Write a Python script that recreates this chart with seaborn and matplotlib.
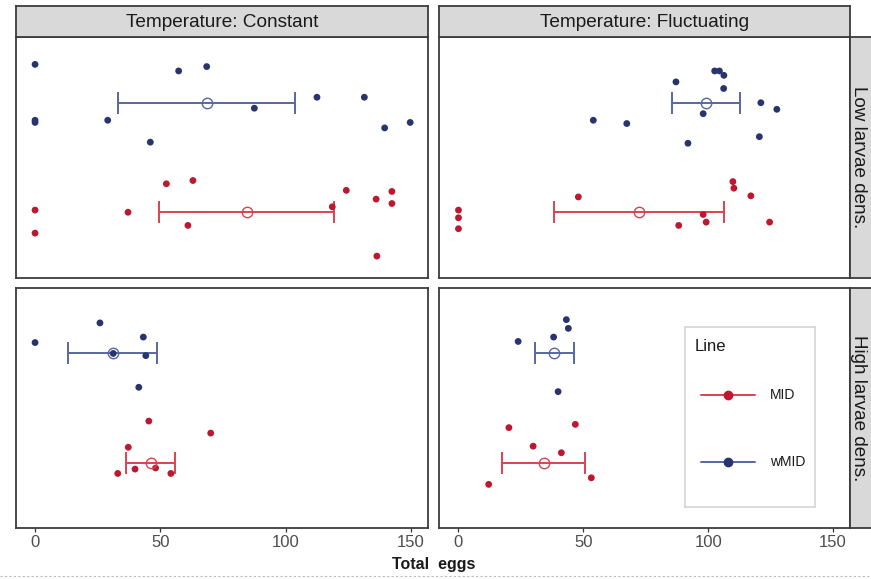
import matplotlib
matplotlib.use("Agg")
import numpy as np
import pandas as pd
import matplotlib.pyplot as plt
import seaborn as sns
from matplotlib.lines import Line2D

# ---------------- data ----------------
temperatures = ["Constant", "Fluctuating"]
densities = ["Low larvae dens.", "High larvae dens."]
line_order = ["wMID", "MID"]          # wMID drawn on top row, MID below
legend_order = ["MID", "wMID"]

# Constant / Low
cl_wmid_eggs = [0, 57.3, 68.5, 112.5, 131.4, 87.5, 0, 0, 29.0, 139.5, 149.7, 46.0]
cl_wmid_jit = [-0.35, -0.29, -0.33, -0.05, -0.05, 0.05, 0.16, 0.18, 0.16, 0.23, 0.18, 0.36]
cl_mid_eggs = [0, 0, 37.1, 52.4, 63.0, 61.0, 118.6, 124.2, 136.1, 142.4, 142.4, 136.4]
cl_mid_jit = [-0.02, 0.19, 0.0, -0.26, -0.29, 0.12, -0.05, -0.20, -0.12, -0.19, -0.08, 0.40]
# Fluctuating / Low
fl_wmid_eggs = [87.1, 102.6, 104.5, 106.3, 106.2, 121.1, 127.5, 98.0, 54.0, 67.4, 120.5, 91.9]
fl_wmid_jit = [-0.19, -0.29, -0.29, -0.25, -0.13, 0.00, 0.06, 0.10, 0.16, 0.19, 0.31, 0.37]
fl_mid_eggs = [0, 0, 0, 48.0, 88.2, 98.0, 99.2, 109.9, 110.3, 117.1, 124.6]
fl_mid_jit = [-0.02, 0.05, 0.15, -0.14, 0.12, 0.02, 0.09, -0.28, -0.22, -0.15, 0.09]
# Constant / High
ch_wmid_eggs = [0, 25.9, 43.2, 44.2, 31.2, 41.4]
ch_wmid_jit = [-0.10, -0.28, -0.15, 0.02, 0.0, 0.31]
ch_mid_eggs = [45.4, 70.1, 37.2, 33.0, 39.9, 48.1, 54.2]
ch_mid_jit = [-0.38, -0.27, -0.14, 0.10, 0.06, 0.05, 0.10]
# Fluctuating / High
fh_wmid_eggs = [43.2, 44.0, 38.1, 23.9, 39.9]
fh_wmid_jit = [-0.31, -0.23, -0.15, -0.11, 0.35]
fh_mid_eggs = [20.2, 46.8, 29.9, 41.2, 53.2, 12.1]
fh_mid_jit = [-0.32, -0.35, -0.15, -0.09, 0.14, 0.20]

# summary: mean and confidence interval per group
summ_temp = ["Constant", "Constant", "Fluctuating", "Fluctuating",
             "Constant", "Constant", "Fluctuating", "Fluctuating"]
summ_dens = ["Low larvae dens."] * 4 + ["High larvae dens."] * 4
summ_line = ["wMID", "MID", "wMID", "MID", "wMID", "MID", "wMID", "MID"]
summ_mean = [68.5, 84.4, 99.0, 72.3, 31.2, 46.2, 38.3, 34.2]
summ_lo = [33.1, 49.5, 85.4, 38.3, 13.3, 36.3, 30.7, 17.3]
summ_hi = [103.7, 119.4, 112.9, 106.3, 48.5, 56.0, 46.1, 50.8]

x_ticks = [0, 50, 100, 150]

# ---------------- build tables ----------------
groups = [
    ("Constant", "Low larvae dens.", "wMID", cl_wmid_eggs, cl_wmid_jit),
    ("Constant", "Low larvae dens.", "MID", cl_mid_eggs, cl_mid_jit),
    ("Fluctuating", "Low larvae dens.", "wMID", fl_wmid_eggs, fl_wmid_jit),
    ("Fluctuating", "Low larvae dens.", "MID", fl_mid_eggs, fl_mid_jit),
    ("Constant", "High larvae dens.", "wMID", ch_wmid_eggs, ch_wmid_jit),
    ("Constant", "High larvae dens.", "MID", ch_mid_eggs, ch_mid_jit),
    ("Fluctuating", "High larvae dens.", "wMID", fh_wmid_eggs, fh_wmid_jit),
    ("Fluctuating", "High larvae dens.", "MID", fh_mid_eggs, fh_mid_jit),
]
rows = []
for t, d, ln, eggs, jit in groups:
    for e, j in zip(eggs, jit):
        rows.append(dict(temp=t, dens=d, line=ln, eggs=e,
                         ypos=line_order.index(ln) + j))
df = pd.DataFrame(rows)
summ = pd.DataFrame(dict(temp=summ_temp, dens=summ_dens, line=summ_line,
                         mean=summ_mean, lo=summ_lo, hi=summ_hi))
summ["ypos"] = [line_order.index(l) for l in summ["line"]]

point_pal = {"MID": "#BE1730", "wMID": "#27346E"}
bar_pal = {"MID": "#D8434F", "wMID": "#5867A2"}

# ---------------- figure ----------------
sns.set_theme(style="white")
plt.rcParams["font.family"] = ["Liberation Sans", "DejaVu Sans"]

W, H = 871, 579
fig = plt.figure(figsize=(W / 100, H / 100), dpi=100)
fig.patch.set_facecolor("white")


def rect(l, t, r, b):
    return [l / W, 1 - b / H, (r - l) / W, (b - t) / H]


col_x = [(15.5, 428), (439, 850)]
row_y = [(37, 278), (288, 528)]
frame_col = "#3C3C3C"

for ri, dens in enumerate(densities):
    for ci, temp in enumerate(temperatures):
        l, r = col_x[ci]
        t, b = row_y[ri]
        ax = fig.add_axes(rect(l, t, r, b))
        sub = df[(df.temp == temp) & (df.dens == dens)]
        sns.scatterplot(data=sub, x="eggs", y="ypos", hue="line",
                        palette=point_pal, s=24, linewidth=0, ax=ax,
                        legend=False, zorder=3)
        ss = summ[(summ.temp == temp) & (summ.dens == dens)]
        for _, rw in ss.iterrows():
            c = bar_pal[rw["line"]]
            ax.errorbar(rw["mean"], rw["ypos"],
                        xerr=[[rw["mean"] - rw["lo"]], [rw["hi"] - rw["mean"]]],
                        fmt="none", ecolor=c, elinewidth=1.4, capsize=7.8,
                        capthick=1.4, zorder=2)
            ax.plot(rw["mean"], rw["ypos"], marker="o", markersize=7.5,
                    markerfacecolor="none", markeredgecolor=c,
                    markeredgewidth=1.0, zorder=4)
        ax.set_xlim(-7.8, 156.8)
        ax.set_ylim(1.6, -0.6)
        ax.set_xlabel("")
        ax.set_ylabel("")
        ax.set_yticks([])
        ax.set_xticks(x_ticks)
        if ri == 1:
            ax.tick_params(axis="x", length=3, width=0.9, color="#333333",
                           labelsize=12, labelcolor="#4D4D4D", pad=2,
                           bottom=True)
        else:
            ax.tick_params(axis="x", bottom=False, labelbottom=False)
        for sp in ax.spines.values():
            sp.set_visible(True)
            sp.set_color(frame_col)
            sp.set_linewidth(1.3)

        # top strips
        if ri == 0:
            sax = fig.add_axes(rect(l, 6, r, 37))
            sax.set_facecolor("#D9D9D9")
            sax.set_xticks([])
            sax.set_yticks([])
            for sp in sax.spines.values():
                sp.set_color(frame_col)
                sp.set_linewidth(1.3)
            sax.text(0.5, 0.47, f"Temperature: {temp}", ha="center",
                     va="center", fontsize=13.7, color="#1A1A1A",
                     transform=sax.transAxes)
        # right strips
        if ci == 1:
            rax = fig.add_axes(rect(850, t, 890, b))
            rax.set_facecolor("#D9D9D9")
            rax.set_xticks([])
            rax.set_yticks([])
            for sp in rax.spines.values():
                sp.set_color(frame_col)
                sp.set_linewidth(1.3)
            rax.text((858.5 - 850) / 40, 0.5, dens, ha="center", va="center",
                     rotation=-90, fontsize=13.6, color="#1A1A1A",
                     transform=rax.transAxes)

# ---------------- legend (drawn as a small inset box) ----------------
lax = fig.add_axes(rect(685, 327, 815, 507))
lax.set_xlim(0, 1)
lax.set_ylim(0, 1)
lax.set_xticks([])
lax.set_yticks([])
lax.set_facecolor("white")
for sp in lax.spines.values():
    sp.set_color("#D4D4D4")
    sp.set_linewidth(1.2)
lax.text(0.077, 0.889, "Line", ha="left", va="center", fontsize=12,
         color="#1A1A1A")
key_y = {"MID": 0.622, "wMID": 0.25}
for k in legend_order:
    y = key_y[k]
    lax.add_line(Line2D([0.123, 0.538], [y, y], color=bar_pal[k], lw=1.4))
    lax.add_line(Line2D([0.331], [y], marker="o", markersize=6,
                        markerfacecolor=point_pal[k],
                        markeredgecolor=point_pal[k], lw=0))
    lax.text(0.654, y, k, ha="left", va="center", fontsize=10,
             color="#1A1A1A")

fig.text(434 / W, 1 - 565 / H, "Total  eggs", ha="center", va="center",
         fontsize=11.5, fontweight="bold", color="#1A1A1A")
fig.add_artist(Line2D([0, 1], [1 - 576 / H, 1 - 576 / H],
                      transform=fig.transFigure, color="#BBBBBB",
                      lw=0.8, ls=(0, (2, 2))))

fig.savefig("out.png", dpi=100)
